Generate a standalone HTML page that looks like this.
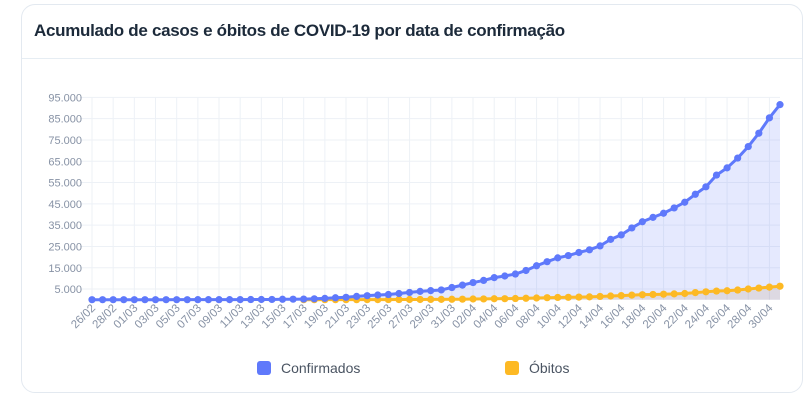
<!DOCTYPE html>
<html><head><meta charset="utf-8">
<style>
body{margin:0;width:809px;height:400px;background:#fff;font-family:"Liberation Sans",sans-serif;overflow:hidden;position:relative}
#card{position:absolute;left:21px;top:4px;width:782px;height:389px;border:1px solid #e3e9f0;border-radius:14px;box-sizing:border-box}
#title{position:absolute;left:12px;top:16px;font-size:17px;font-weight:bold;color:#1c2a3a;letter-spacing:-0.3px;margin:0}
#sep{position:absolute;left:0;right:0;top:53px;border-top:1px solid #e6edf3}
svg{position:absolute;left:0;top:0}
.leg{position:absolute;top:360px;font-size:14px;color:#4a5462;display:flex;align-items:center}
.sw{width:14px;height:14px;border-radius:3px;margin-right:10px}
</style></head><body>
<div id="card">
<h1 id="title">Acumulado de casos e óbitos de COVID-19 por data de confirmação</h1>
<div id="sep"></div>
</div>
<svg id="chart" width="809" height="400"></svg>
<div class="leg" style="left:257px"><div class="sw" style="background:#5f79fb"></div>Confirmados</div>
<div class="leg" style="left:505px"><div class="sw" style="background:#fdb924"></div>Óbitos</div>
<script>
const dates=["26/02","27/02","28/02","29/02","01/03","02/03","03/03","04/03","05/03","06/03","07/03","08/03","09/03","10/03","11/03","12/03","13/03","14/03","15/03","16/03","17/03","18/03","19/03","20/03","21/03","22/03","23/03","24/03","25/03","26/03","27/03","28/03","29/03","30/03","31/03","01/04","02/04","03/04","04/04","05/04","06/04","07/04","08/04","09/04","10/04","11/04","12/04","13/04","14/04","15/04","16/04","17/04","18/04","19/04","20/04","21/04","22/04","23/04","24/04","25/04","26/04","27/04","28/04","29/04","30/04","01/05"];
const confirmados=[1,1,1,2,2,2,2,3,8,13,19,25,25,34,52,77,98,121,200,234,291,428,621,904,1128,1546,1891,2201,2433,2915,3417,3904,4256,4579,5717,6836,8044,9056,10360,11130,12056,13717,15927,17857,19638,20727,22169,23430,25262,28320,30425,33682,36599,38654,40581,43079,45757,49492,52995,58509,61888,66501,71886,78162,85380,91589];
const obitos=[null,null,null,null,null,null,null,null,null,null,null,null,null,null,null,null,null,null,null,null,1,4,7,11,18,25,34,46,57,77,92,111,136,159,201,240,324,359,445,486,553,667,800,941,1056,1124,1223,1328,1532,1736,1924,2141,2354,2462,2587,2741,2906,3331,3704,4057,4205,4543,5017,5466,5901,6329];
const yTicks=[5000,15000,25000,35000,45000,55000,65000,75000,85000,95000];
const yTickLabels=["5.000","15.000","25.000","35.000","45.000","55.000","65.000","75.000","85.000","95.000"];
const NS="http://www.w3.org/2000/svg";
const svg=document.getElementById('chart');
const x0=92,x1=780,yBase=299.7,pxPer=21.3/10000;
const X=i=>x0+(x1-x0)*i/(dates.length-1);
const Y=v=>yBase-v*pxPer;
function mk(t,a,p){const e=document.createElementNS(NS,t);for(const k in a)e.setAttribute(k,a[k]);(p||svg).appendChild(e);return e;}
const grid=mk('g',{});


yTicks.forEach((t,k)=>{
  const l=mk('line',{x1:80,x2:x1,y1:Y(t),y2:Y(t),stroke:'#edf1f6','stroke-width':1},grid);
  
  
  const tx=mk('text',{x:82,y:Y(t)+4,'text-anchor':'end','font-size':11,fill:'#8792a5'});
  tx.textContent=yTickLabels[k];
  
  
});
dates.forEach((d,i)=>{
  if(i%2)return;
  const l=mk('line',{x1:X(i),x2:X(i),y1:Y(95000),y2:yBase,stroke:'#edf1f6','stroke-width':1},grid);
  
  
  const tx=mk('text',{x:0,y:0,'text-anchor':'end','font-size':11.5,fill:'#8792a5',transform:`translate(${X(i)+4},${yBase+9}) rotate(-45)`});
  tx.textContent=d;
  
  
});
function pts(vals){const p=[];vals.forEach((v,i)=>{if(v!==null)p.push([X(i),Y(v)]);});return p;}
function area(vals,fill,name){
  const p=pts(vals);
  const a=mk('path',{d:'M'+p[0][0]+','+yBase+' L'+p.map(q=>q.join(',')).join(' L')+' L'+p[p.length-1][0]+','+yBase+' Z',fill:fill});
  
  
}
function line(vals,color,name){
  const p=pts(vals);
  const l=mk('polyline',{points:p.map(q=>q.join(',')).join(' '),fill:'none',stroke:color,'stroke-width':3,'stroke-linejoin':'round'});
  
  
  p.forEach(q=>{
    const c=mk('circle',{cx:q[0],cy:q[1],r:3.6,fill:color});
    
    
  });
}
area(confirmados,'rgba(95,121,251,0.16)','confirmados');
area(obitos,'rgba(180,120,60,0.14)','obitos');
line(obitos,'#fdb924','obitos');
line(confirmados,'#5f79fb','confirmados');
</script>
</body></html>
